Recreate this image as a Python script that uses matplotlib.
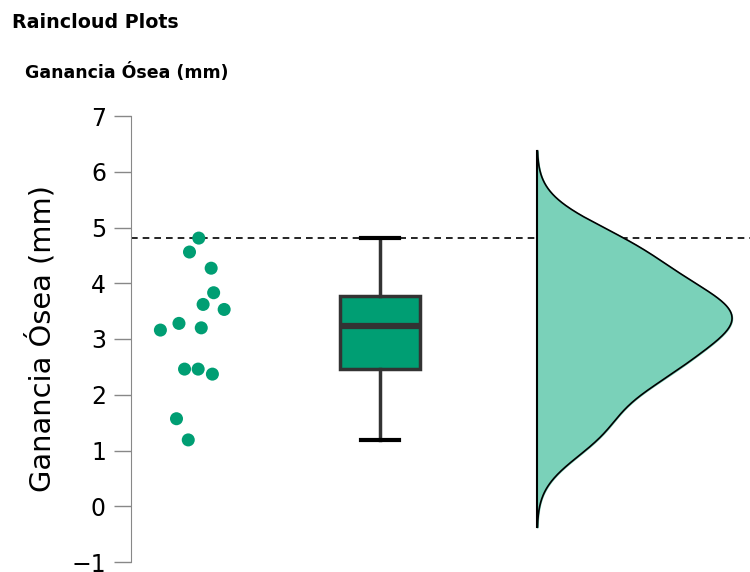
import matplotlib.pyplot as plt
import numpy as np

# values
ganancia = [4.81, 4.56, 4.27, 3.83, 3.62, 3.53, 3.28, 3.16, 3.20, 2.46, 2.46, 2.37, 1.57, 1.19]
# horizontal jitter of the rain points (axes fraction, around their centre)
jitter = [0.011, -0.004, 0.031, 0.035, 0.018, 0.052, -0.021, -0.051, 0.015, -0.012, 0.010, 0.033, -0.025, -0.006]
yticks = [-1, 0, 1, 2, 3, 4, 5, 6, 7]

point_color = '#009E73'
box_color = '#009E73'
cloud_color = '#7AD1B9'


def main():
    fig = plt.figure(figsize=(7.5, 5.72), dpi=100)
    ax = fig.add_axes([131 / 750, 10 / 572, 619 / 750, 446 / 572])
    ax.set_xlim(0, 1)
    ax.set_ylim(-1, 7)

    y = np.array(ganancia)

    # rain
    ax.scatter(0.0985 + np.array(jitter), y, s=88, color=point_color,
               edgecolors='none', zorder=3, clip_on=False)

    # box
    bp = ax.boxplot(y, positions=[0.402], widths=0.129, whis=(0, 100),
                    patch_artist=True, manage_ticks=False,
                    boxprops=dict(facecolor=box_color, edgecolor='#333333', linewidth=2.5),
                    medianprops=dict(color='#333333', linewidth=4.5),
                    whiskerprops=dict(color='#333333', linewidth=2.5),
                    capprops=dict(color='black', linewidth=3),
                    showfliers=False, zorder=3)
    for cap in bp['caps']:
        c = cap.get_xdata().mean()
        cap.set_xdata([c - 0.0307, c + 0.0307])

    # cloud (gaussian kde, silverman bandwidth, cut = 3 bw)
    n = len(y)
    iqr = np.subtract(*np.percentile(y, [75, 25]))
    bw = 0.9 * min(y.std(ddof=1), iqr / 1.34) * n ** -0.2
    grid = np.linspace(y.min() - 3 * bw, y.max() + 3 * bw, 400)
    dens = np.exp(-0.5 * ((grid[:, None] - y[None, :]) / bw) ** 2).sum(axis=1)
    dens = dens / dens.max() * 0.315
    base = 0.656
    ax.fill_betweenx(grid, base, base + dens, color=cloud_color, zorder=2)
    ax.plot(base + dens, grid, color='black', linewidth=1.2, zorder=2)
    ax.plot([base, base], [grid[0], grid[-1]], color='black', linewidth=1.5, zorder=2)

    # max line
    ax.axhline(y.max(), color='black', linestyle=(0, (4, 3)), linewidth=1.2, zorder=1)

    ax.set_yticks(yticks)
    ax.set_yticklabels(['\u22121' if t < 0 else str(t) for t in yticks])
    ax.tick_params(axis='y', labelsize=17, length=12, width=1, color='#888888', pad=6)
    ax.set_xticks([])
    for s in ['top', 'right', 'bottom']:
        ax.spines[s].set_visible(False)
    ax.spines['left'].set_color('#888888')
    ax.spines['left'].set_bounds(-1, 7)
    ax.set_ylabel('Ganancia Ósea (mm)', fontsize=20.8, labelpad=11)

    fig.text(12 / 750, 1 - 22 / 572, 'Raincloud Plots', fontsize=13.7,
             fontweight='bold', va='center', ha='left')
    fig.text(25 / 750, 1 - 72 / 572, 'Ganancia Ósea (mm)', fontsize=12.5,
             fontweight='bold', va='center', ha='left')

    fig.savefig('out.png', dpi=100)


if __name__ == '__main__':
    main()
